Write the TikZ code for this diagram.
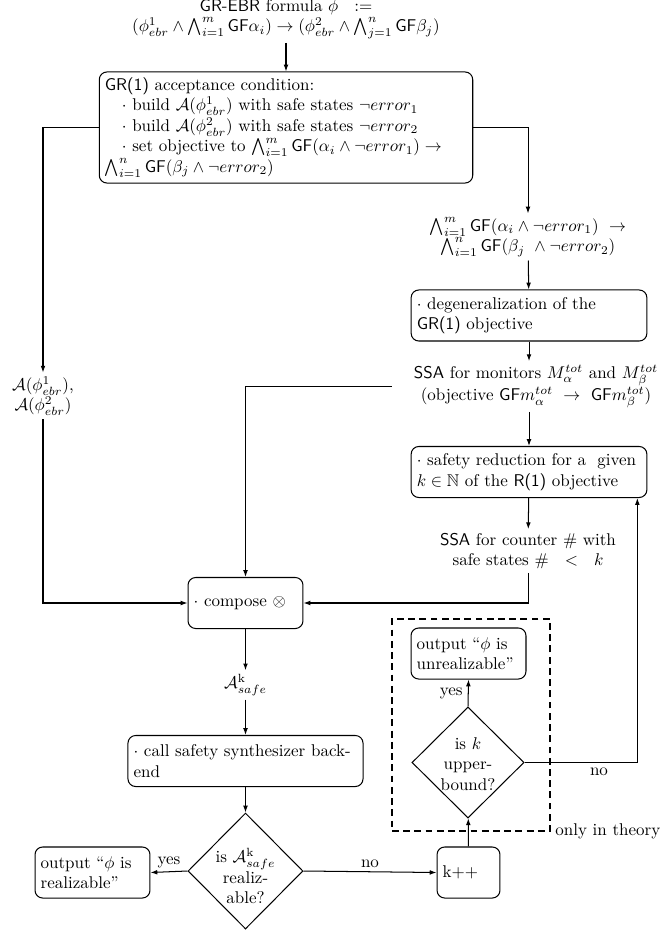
\documentclass[tikz,border=0pt]{standalone}
\usepackage{amsmath,amssymb}
\usetikzlibrary{shapes.geometric,arrows.meta}
\begin{document}
\begin{tikzpicture}[x=0.588pt,y=-0.588pt,
  >={Latex[length=4pt,width=2.8pt]}, line width=0.6pt,
  box/.style={draw, rounded corners=4.5pt, minimum height=30pt, inner sep=3.3pt, align=left},
  plain/.style={align=center, inner sep=2pt},
  dia/.style={draw, diamond, inner sep=0pt},
  dashbox/.style={draw, dash pattern=on 4pt off 2.6pt, line width=0.75pt, inner sep=0pt}]
\useasboundingbox (0,0) rectangle (660,935);

\node[plain] (title) at (286,19) {\textsf{GR-EBR} formula $\phi\ \ :=$\\
  $(\phi^1_{ebr}\wedge\bigwedge_{i=1}^{m}\mathsf{GF}\alpha_i)\rightarrow(\phi^2_{ebr}\wedge\bigwedge_{j=1}^{n}\mathsf{GF}\beta_j)$};

\node[box, text width=213pt, minimum height=65.3pt] (gr) at (286,127.5) {\textsf{GR(1)} acceptance condition:\\
\hspace*{10pt}$\cdot$ build $\mathcal{A}(\phi^1_{ebr})$ with safe states $\neg error_1$\\
\hspace*{10pt}$\cdot$ build $\mathcal{A}(\phi^2_{ebr})$ with safe states $\neg error_2$\\
\hspace*{10pt}$\cdot$ set objective to $\bigwedge_{i=1}^{m}\mathsf{GF}(\alpha_i\wedge\neg error_1)\rightarrow$\\
$\bigwedge_{i=1}^{n}\mathsf{GF}(\beta_j\wedge\neg error_2)$};

\node[plain] (wedge) at (528,237) {$\bigwedge_{i=1}^{m}\mathsf{GF}(\alpha_i\wedge\neg error_1)\ \rightarrow$\\
  $\bigwedge_{i=1}^{n}\mathsf{GF}(\beta_j\ \wedge\neg error_2)$};

\node[box, text width=132pt] (degen) at (529,315.5) {$\cdot$ degeneralization of the\\ \textsf{GR(1)} objective};

\node[plain, minimum width=169pt] (ssam) at (536,386.5) {\textsf{SSA} for monitors $M_\alpha^{tot}$ and $M_\beta^{tot}$\\
  (objective $\mathsf{GF}m_\alpha^{tot}\ \rightarrow\ \mathsf{GF}m_\beta^{tot}$)};

\node[box, text width=132pt] (safety) at (529,472) {$\cdot$ safety reduction for a\ \ given\\ $k\in\mathbb{N}$ of the \textsf{R(1)} objective};

\node[plain] (ssac) at (528,551) {\textsf{SSA} for counter $\#$ with\\ safe states $\#\ \ <\ \ k$};

\node[plain] (A) at (43,396) {$\mathcal{A}(\phi^1_{ebr})$,\\ $\mathcal{A}(\phi^2_{ebr})$};

\node[box, text width=61pt] (compose) at (245.5,603) {$\cdot$ compose $\otimes$};

\node[plain] (asafe) at (245.5,685) {$\mathcal{A}^{\mathrm{k}}_{safe}$};

\node[box, text width=131.6pt] (call) at (245.5,761) {$\cdot$ call safety synthesizer back-\\end};

\node[dia, minimum width=67.6pt, minimum height=68.2pt] (d1) at (245.5,871) {};
\node[plain] (d1t) at (245.5,876) {is $\mathcal{A}^{\mathrm{k}}_{safe}$\\ realiz-\\ able?};

\node[box, text width=61pt] (real) at (92.5,872.5) {output ``$\phi$ is\\ realizable''};

\node[box, text width=30.4pt] (kpp) at (468.5,872.5) {k++};

\node[dia, minimum width=65.9pt, minimum height=65.3pt] (d2) at (468,762.5) {};
\node[plain] (d2t) at (468,764) {is $k$\\ upper-\\ bound?};

\node[box, text width=61pt] (unreal) at (468.5,653.5) {output ``$\phi$ is\\ unrealizable''};

\node[dashbox, minimum width=92.9pt, minimum height=124.7pt] (dash) at (471,725) {};
\node[anchor=west, inner sep=2.5pt] (theory) at (dash.south east) {only in theory};

\draw[->] (title) -- (gr);
\draw[->] (gr.west) -| (A.north);
\draw[->] (gr.east) -| (wedge.north);
\draw[->] (wedge) -- (degen);
\draw[->] (degen.south) -- (degen.south |- ssam.north);
\draw[->] (safety.north |- ssam.south) -- (safety.north);
\draw[->] (safety) -- (ssac);
\draw[->] (ssac.south) |- (compose.east);
\draw[->] (ssam.west) -| (compose.north);
\draw[->] (A.south) |- (compose.west);
\draw[->] (compose) -- (asafe);
\draw[->] (asafe) -- (call);
\draw[->] (call) -- (d1);
\draw[->] (d1.west) -- node[above, inner sep=2pt] (yes1) {yes} (real.east);
\draw[->] (d1.east) -- node[above, inner sep=2pt] (no1) {no} (kpp.west);
\draw[->] (kpp) -- (d2);
\draw[->] (d2.north) -- node[left, inner sep=3pt] (yes2) {yes} (unreal.south);
\draw[->] (d2.east) -| node[pos=0.33, below, inner sep=3pt] (no2) {no} ([xshift=-5.9pt]safety.south east);
\end{tikzpicture}
\end{document}
